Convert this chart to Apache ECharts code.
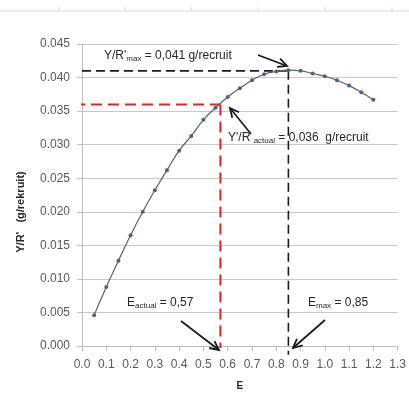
<!DOCTYPE html>
<html><head><meta charset="utf-8">
<script src="https://cdn.jsdelivr.net/npm/echarts@6/dist/echarts.min.js"></script>
<style>html,body{margin:0;padding:0;background:#fff}#c{width:409px;height:396px}</style>
</head><body><div id="c"></div>
<script>
// Fishing mortality multiplier E
const E = [0.05,0.10,0.15,0.20,0.25,0.30,0.35,0.40,0.45,0.50,0.55,0.60,
           0.65,0.70,0.75,0.80,0.85,0.90,0.95,1.00,1.05,1.10,1.15,1.20];
// Yield per recruit Y/R' (g/recruit)
const YR = [0.0046,0.0088,0.0127,0.0165,0.0200,0.0232,0.0262,0.0291,0.0313,0.0337,0.0355,0.0371,
            0.0384,0.0396,0.0405,0.0409,0.0411,0.0410,0.0406,0.0402,0.0396,0.0388,0.0378,0.0367];
// reference values
const eActual = 0.57, yActual = 0.036;
const eMax = 0.85, yMax = 0.041;
// labels
const xTitle = 'E';
const yTitle = "Y/R'   (g/rekruit)";

const FONT = 'Liberation Sans';
const chart = echarts.init(document.getElementById('c'), null, {renderer:'canvas'});

const gridLeft = 82, gridTop = 44, gridRight = 9, gridBottom = 43;

chart.setOption({
  animation:false,
  backgroundColor:'#ffffff',
  textStyle:{fontFamily:FONT},
  grid:{left:gridLeft, top:gridTop, right:gridRight, bottom:gridBottom, containLabel:false},
  xAxis:{
    type:'value', min:0, max:1.3, interval:0.1,
    name:xTitle, nameLocation:'middle', nameGap:35,
    nameTextStyle:{fontFamily:FONT, fontSize:10, fontWeight:'bold', color:'#262626'},
    axisLine:{lineStyle:{color:'#bfbfbf', width:1}},
    axisTick:{show:true, inside:false, length:5, lineStyle:{color:'#bfbfbf'}},
    axisLabel:{margin:13, fontSize:12, color:'#595959', fontFamily:FONT,
               formatter:v=>v.toFixed(1)},
    splitLine:{show:false}
  },
  yAxis:{
    type:'value', min:0, max:0.045, interval:0.005,
    name:yTitle, nameLocation:'middle', nameGap:56, nameRotate:90,
    nameTextStyle:{fontFamily:FONT, fontSize:11, fontWeight:'bold', color:'#262626', padding:[0,0,0,-34]},
    axisLine:{show:true, lineStyle:{color:'#bfbfbf', width:1}},
    axisTick:{show:true, inside:false, length:5, lineStyle:{color:'#bfbfbf'}},
    axisLabel:{margin:12, fontSize:12, color:'#595959', fontFamily:FONT,
               formatter:v=>v.toFixed(3)},
    splitLine:{show:true, lineStyle:{color:'#c8c8c8', width:1}}
  },
  series:[
    {
      type:'line', name:'refActualH', clip:false, silent:true, symbol:'none',
      lineStyle:{color:'#d9262b', width:2, type:[11,6]},
      data:[[-0.033, yActual],[eActual, yActual]], z:3
    },
    {
      type:'line', name:'refActualV', clip:false, silent:true, symbol:'none',
      lineStyle:{color:'#d9262b', width:2, type:[11,6]},
      data:[[eActual, yActual],[eActual, -0.0003]], z:3
    },
    {
      type:'line', name:'refMaxH', clip:false, silent:true, symbol:'none',
      lineStyle:{color:'#1a1a1a', width:1.6, type:[9,5]},
      data:[[-0.058, yMax],[eMax, yMax]], z:3
    },
    {
      type:'line', name:'refMaxV', clip:false, silent:true, symbol:'none',
      lineStyle:{color:'#1a1a1a', width:1.6, type:[9,5]},
      data:[[eMax, yMax],[eMax, -0.0013]], z:3
    },
    {
      type:'line', name:'YR', smooth:true, symbol:'circle', symbolSize:4,
      lineStyle:{color:'#5f5f5f', width:1.2},
      itemStyle:{color:'#44638f', borderWidth:0},
      data:E.map((e,i)=>[e, YR[i]]), z:4
    }
  ]
});

// Annotations
function arrow(x1,y1,x2,y2){
  const a = Math.atan2(y2-y1, x2-x1), L = 10, w = 0.45;
  const p1 = [x2 - L*Math.cos(a-w), y2 - L*Math.sin(a-w)];
  const p2 = [x2 - L*Math.cos(a+w), y2 - L*Math.sin(a+w)];
  return [
    {type:'line', shape:{x1,y1,x2,y2}, style:{stroke:'#1a1a1a', lineWidth:1.7}, z:10},
    {type:'polyline', shape:{points:[p1,[x2,y2],p2]}, style:{stroke:'#1a1a1a', lineWidth:1.8, fill:null}, z:10}
  ];
}
const rich = {
  b:{fontFamily:FONT, fontSize:12, color:'#262626'},
  s:{fontFamily:FONT, fontSize:8, color:'#262626', padding:[6,0,0,0]}
};
function label(x,y,txt){
  return {type:'text', x, y, z:10,
    style:{text:txt, rich, fontFamily:FONT, fontSize:12, fill:'#262626', verticalAlign:'middle', align:'left'}};
}
const g = [
  // spreadsheet border at top
  {type:'line', shape:{x1:0,y1:11,x2:409,y2:11}, style:{stroke:'#d9d9d9', lineWidth:1}},
  ...[59,125,191,258,325,392].map(x=>({type:'line', shape:{x1:x,y1:7,x2:x,y2:11}, style:{stroke:'#d9d9d9', lineWidth:1}})),
  label(104,56,"{b|Y/R'}{s|max}{b| = 0,041 g/recruit}"),
  label(228,138,"{b|Y'/R }{s|actual}{b| = 0,036  g/recruit}"),
  label(127,303,"{b|E}{s|actual}{b| = 0,57}"),
  label(308,303,"{b|E}{s|max}{b| = 0,85}"),
  ...arrow(258,55,287,66),
  ...arrow(251,134,230,108),
  ...arrow(181,321,219,350),
  ...arrow(325,320,293,348)
];
chart.setOption({graphic:g});
</script></body></html>
